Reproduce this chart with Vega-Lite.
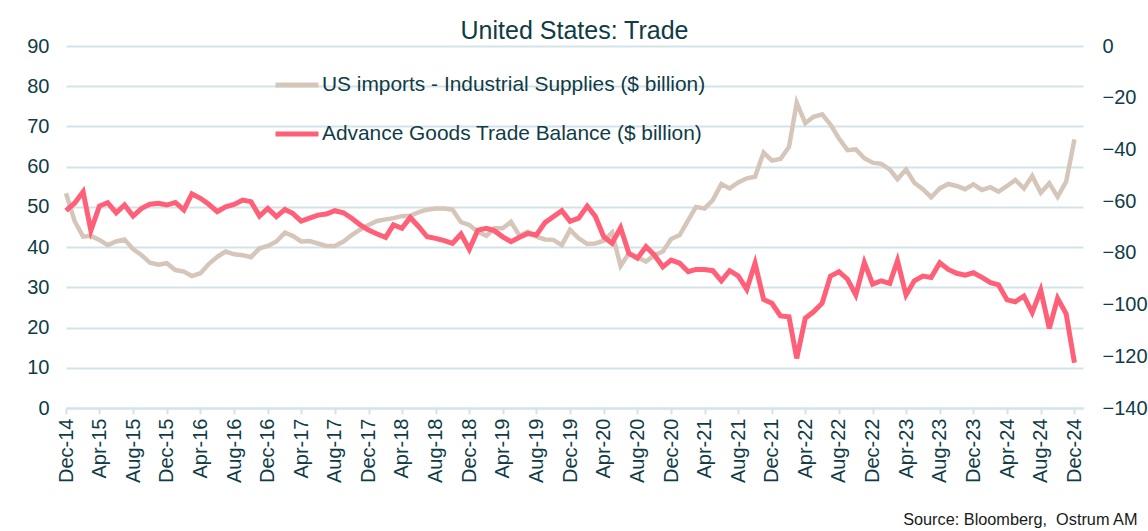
{
  "$schema": "https://vega.github.io/schema/vega-lite/v6.json",
  "autosize": {"type": "none"},
  "padding": {"left": 66, "top": 46, "right": 65, "bottom": 123},
  "width": 1017,
  "height": 362,
  "background": "white",
  "title": {
    "text": "United States: Trade",
    "frame": "group",
    "anchor": "middle",
    "offset": -8,
    "fontSize": 25,
    "fontWeight": "normal",
    "font": "Liberation Sans",
    "color": "#0f3c46"
  },
  "data": {
    "values": [
      {"date": "2014-12-01", "imports": 53.4, "balance": -63.7},
      {"date": "2015-01-01", "imports": 46.5, "balance": -60.8},
      {"date": "2015-02-01", "imports": 42.6, "balance": -56.4},
      {"date": "2015-03-01", "imports": 42.8, "balance": -71.4},
      {"date": "2015-04-01", "imports": 41.8, "balance": -61.9},
      {"date": "2015-05-01", "imports": 40.5, "balance": -60.6},
      {"date": "2015-06-01", "imports": 41.4, "balance": -64.5},
      {"date": "2015-07-01", "imports": 41.9, "balance": -61.5},
      {"date": "2015-08-01", "imports": 39.5, "balance": -65.8},
      {"date": "2015-09-01", "imports": 38.0, "balance": -62.8},
      {"date": "2015-10-01", "imports": 36.1, "balance": -61.2},
      {"date": "2015-11-01", "imports": 35.6, "balance": -60.8},
      {"date": "2015-12-01", "imports": 36.0, "balance": -61.5},
      {"date": "2016-01-01", "imports": 34.3, "balance": -60.5},
      {"date": "2016-02-01", "imports": 33.9, "balance": -63.4},
      {"date": "2016-03-01", "imports": 32.8, "balance": -57.2},
      {"date": "2016-04-01", "imports": 33.5, "balance": -58.9},
      {"date": "2016-05-01", "imports": 35.8, "balance": -61.2},
      {"date": "2016-06-01", "imports": 37.6, "balance": -64.1},
      {"date": "2016-07-01", "imports": 38.9, "balance": -62.2},
      {"date": "2016-08-01", "imports": 38.2, "balance": -61.3},
      {"date": "2016-09-01", "imports": 38.0, "balance": -59.6},
      {"date": "2016-10-01", "imports": 37.5, "balance": -60.2},
      {"date": "2016-11-01", "imports": 39.7, "balance": -65.8},
      {"date": "2016-12-01", "imports": 40.3, "balance": -62.8},
      {"date": "2017-01-01", "imports": 41.4, "balance": -66.0},
      {"date": "2017-02-01", "imports": 43.6, "balance": -63.2},
      {"date": "2017-03-01", "imports": 42.8, "balance": -64.7},
      {"date": "2017-04-01", "imports": 41.4, "balance": -67.7},
      {"date": "2017-05-01", "imports": 41.5, "balance": -66.6},
      {"date": "2017-06-01", "imports": 40.9, "balance": -65.4},
      {"date": "2017-07-01", "imports": 40.3, "balance": -65.0},
      {"date": "2017-08-01", "imports": 40.3, "balance": -63.7},
      {"date": "2017-09-01", "imports": 41.4, "balance": -64.5},
      {"date": "2017-10-01", "imports": 43.0, "balance": -66.6},
      {"date": "2017-11-01", "imports": 44.4, "balance": -69.2},
      {"date": "2017-12-01", "imports": 45.5, "balance": -71.2},
      {"date": "2018-01-01", "imports": 46.5, "balance": -72.7},
      {"date": "2018-02-01", "imports": 46.9, "balance": -74.0},
      {"date": "2018-03-01", "imports": 47.2, "balance": -69.2},
      {"date": "2018-04-01", "imports": 47.7, "balance": -70.5},
      {"date": "2018-05-01", "imports": 47.8, "balance": -66.3},
      {"date": "2018-06-01", "imports": 48.7, "balance": -69.9},
      {"date": "2018-07-01", "imports": 49.3, "balance": -73.8},
      {"date": "2018-08-01", "imports": 49.6, "balance": -74.4},
      {"date": "2018-09-01", "imports": 49.6, "balance": -75.3},
      {"date": "2018-10-01", "imports": 49.3, "balance": -76.3},
      {"date": "2018-11-01", "imports": 46.2, "balance": -72.7},
      {"date": "2018-12-01", "imports": 45.5, "balance": -78.6},
      {"date": "2019-01-01", "imports": 43.8, "balance": -71.2},
      {"date": "2019-02-01", "imports": 42.8, "balance": -70.5},
      {"date": "2019-03-01", "imports": 44.7, "balance": -71.4},
      {"date": "2019-04-01", "imports": 44.7, "balance": -73.8},
      {"date": "2019-05-01", "imports": 46.3, "balance": -75.7},
      {"date": "2019-06-01", "imports": 42.8, "balance": -74.0},
      {"date": "2019-07-01", "imports": 43.8, "balance": -72.5},
      {"date": "2019-08-01", "imports": 42.6, "balance": -73.1},
      {"date": "2019-09-01", "imports": 41.9, "balance": -68.3},
      {"date": "2019-10-01", "imports": 41.8, "balance": -66.0},
      {"date": "2019-11-01", "imports": 40.5, "balance": -63.7},
      {"date": "2019-12-01", "imports": 44.3, "balance": -67.8},
      {"date": "2020-01-01", "imports": 42.2, "balance": -66.6},
      {"date": "2020-02-01", "imports": 40.8, "balance": -61.9},
      {"date": "2020-03-01", "imports": 40.9, "balance": -65.8},
      {"date": "2020-04-01", "imports": 41.6, "balance": -73.8},
      {"date": "2020-05-01", "imports": 43.6, "balance": -76.3},
      {"date": "2020-06-01", "imports": 35.3, "balance": -70.3},
      {"date": "2020-07-01", "imports": 38.5, "balance": -80.2},
      {"date": "2020-08-01", "imports": 37.5, "balance": -82.1},
      {"date": "2020-09-01", "imports": 36.4, "balance": -77.6},
      {"date": "2020-10-01", "imports": 38.0, "balance": -80.8},
      {"date": "2020-11-01", "imports": 38.9, "balance": -85.4},
      {"date": "2020-12-01", "imports": 42.0, "balance": -82.8},
      {"date": "2021-01-01", "imports": 43.0, "balance": -84.0},
      {"date": "2021-02-01", "imports": 46.7, "balance": -87.3},
      {"date": "2021-03-01", "imports": 50.0, "balance": -86.4},
      {"date": "2021-04-01", "imports": 49.6, "balance": -86.4},
      {"date": "2021-05-01", "imports": 51.7, "balance": -86.9},
      {"date": "2021-06-01", "imports": 55.7, "balance": -90.8},
      {"date": "2021-07-01", "imports": 54.6, "balance": -86.9},
      {"date": "2021-08-01", "imports": 56.1, "balance": -88.9},
      {"date": "2021-09-01", "imports": 57.1, "balance": -94.1},
      {"date": "2021-10-01", "imports": 57.5, "balance": -84.0},
      {"date": "2021-11-01", "imports": 63.5, "balance": -98.0},
      {"date": "2021-12-01", "imports": 61.5, "balance": -99.5},
      {"date": "2022-01-01", "imports": 61.9, "balance": -104.4},
      {"date": "2022-02-01", "imports": 64.9, "balance": -104.7},
      {"date": "2022-03-01", "imports": 75.9, "balance": -120.8},
      {"date": "2022-04-01", "imports": 70.8, "balance": -105.3},
      {"date": "2022-05-01", "imports": 72.4, "balance": -102.8},
      {"date": "2022-06-01", "imports": 73.0, "balance": -99.5},
      {"date": "2022-07-01", "imports": 70.5, "balance": -89.0},
      {"date": "2022-08-01", "imports": 67.0, "balance": -87.3},
      {"date": "2022-09-01", "imports": 64.1, "balance": -90.2},
      {"date": "2022-10-01", "imports": 64.3, "balance": -96.3},
      {"date": "2022-11-01", "imports": 62.1, "balance": -83.8},
      {"date": "2022-12-01", "imports": 61.0, "balance": -92.1},
      {"date": "2023-01-01", "imports": 60.7, "balance": -90.8},
      {"date": "2023-02-01", "imports": 59.3, "balance": -91.8},
      {"date": "2023-03-01", "imports": 56.9, "balance": -83.0},
      {"date": "2023-04-01", "imports": 59.3, "balance": -96.3},
      {"date": "2023-05-01", "imports": 56.0, "balance": -90.8},
      {"date": "2023-06-01", "imports": 54.4, "balance": -89.0},
      {"date": "2023-07-01", "imports": 52.4, "balance": -89.5},
      {"date": "2023-08-01", "imports": 54.6, "balance": -83.8},
      {"date": "2023-09-01", "imports": 55.7, "balance": -86.4},
      {"date": "2023-10-01", "imports": 55.2, "balance": -87.9},
      {"date": "2023-11-01", "imports": 54.4, "balance": -88.6},
      {"date": "2023-12-01", "imports": 55.6, "balance": -87.7},
      {"date": "2024-01-01", "imports": 54.2, "balance": -89.5},
      {"date": "2024-02-01", "imports": 54.9, "balance": -91.5},
      {"date": "2024-03-01", "imports": 53.8, "balance": -92.4},
      {"date": "2024-04-01", "imports": 55.2, "balance": -98.2},
      {"date": "2024-05-01", "imports": 56.7, "balance": -98.9},
      {"date": "2024-06-01", "imports": 54.6, "balance": -96.7},
      {"date": "2024-07-01", "imports": 57.7, "balance": -103.1},
      {"date": "2024-08-01", "imports": 53.5, "balance": -94.4},
      {"date": "2024-09-01", "imports": 55.9, "balance": -109.2},
      {"date": "2024-10-01", "imports": 52.5, "balance": -97.6},
      {"date": "2024-11-01", "imports": 56.3, "balance": -103.6},
      {"date": "2024-12-01", "imports": 66.8, "balance": -122.5}
    ]
  },
  "encoding": {
    "x": {
      "field": "date",
      "type": "temporal",
      "scale": {
        "type": "utc",
        "domain": [
          {"year": 2014, "month": 12, "date": 1, "utc": true},
          {"year": 2025, "month": 1, "date": 1, "utc": true}
        ],
        "nice": false
      },
      "axis": {
        "values": [
          {"year": 2014, "month": 12, "date": 1, "utc": true},
          {"year": 2015, "month": 4, "date": 1, "utc": true},
          {"year": 2015, "month": 8, "date": 1, "utc": true},
          {"year": 2015, "month": 12, "date": 1, "utc": true},
          {"year": 2016, "month": 4, "date": 1, "utc": true},
          {"year": 2016, "month": 8, "date": 1, "utc": true},
          {"year": 2016, "month": 12, "date": 1, "utc": true},
          {"year": 2017, "month": 4, "date": 1, "utc": true},
          {"year": 2017, "month": 8, "date": 1, "utc": true},
          {"year": 2017, "month": 12, "date": 1, "utc": true},
          {"year": 2018, "month": 4, "date": 1, "utc": true},
          {"year": 2018, "month": 8, "date": 1, "utc": true},
          {"year": 2018, "month": 12, "date": 1, "utc": true},
          {"year": 2019, "month": 4, "date": 1, "utc": true},
          {"year": 2019, "month": 8, "date": 1, "utc": true},
          {"year": 2019, "month": 12, "date": 1, "utc": true},
          {"year": 2020, "month": 4, "date": 1, "utc": true},
          {"year": 2020, "month": 8, "date": 1, "utc": true},
          {"year": 2020, "month": 12, "date": 1, "utc": true},
          {"year": 2021, "month": 4, "date": 1, "utc": true},
          {"year": 2021, "month": 8, "date": 1, "utc": true},
          {"year": 2021, "month": 12, "date": 1, "utc": true},
          {"year": 2022, "month": 4, "date": 1, "utc": true},
          {"year": 2022, "month": 8, "date": 1, "utc": true},
          {"year": 2022, "month": 12, "date": 1, "utc": true},
          {"year": 2023, "month": 4, "date": 1, "utc": true},
          {"year": 2023, "month": 8, "date": 1, "utc": true},
          {"year": 2023, "month": 12, "date": 1, "utc": true},
          {"year": 2024, "month": 4, "date": 1, "utc": true},
          {"year": 2024, "month": 8, "date": 1, "utc": true},
          {"year": 2024, "month": 12, "date": 1, "utc": true}
        ],
        "labelExpr": "utcFormat(datum.value, '%b-%y')",
        "labelAngle": 270,
        "labelAlign": "right",
        "labelBaseline": "middle",
        "labelFontSize": 20,
        "labelPadding": 4,
        "labelOverlap": false,
        "labelFlush": false,
        "labelColor": "#0f3c46",
        "labelFont": "Liberation Sans",
        "grid": false,
        "domain": true,
        "domainColor": "#d3e3ea",
        "domainWidth": 2,
        "ticks": true,
        "tickColor": "#d3e3ea",
        "tickWidth": 2,
        "tickSize": 6,
        "title": "Source: Bloomberg,\u00a0\u00a0Ostrum AM",
        "titleX": 1071,
        "titleY": 111,
        "titleAlign": "right",
        "titleAnchor": null,
        "titleBaseline": "middle",
        "titleAngle": 0,
        "titleFontSize": 16.3,
        "titleFontWeight": "normal",
        "titleFont": "Liberation Sans",
        "titleColor": "#1a1a1a"
      }
    }
  },
  "layer": [
    {
      "mark": {"type": "line", "strokeWidth": 4.5, "interpolate": "linear"},
      "encoding": {
        "y": {
          "field": "imports",
          "type": "quantitative",
          "scale": {"domain": [0, 90], "nice": false, "zero": false},
          "axis": {
            "orient": "left",
            "values": [0, 10, 20, 30, 40, 50, 60, 70, 80, 90],
            "title": null,
            "grid": true,
            "gridColor": "#d3e3ea",
            "gridWidth": 2,
            "domain": false,
            "ticks": false,
            "tickSize": 0,
            "labelPadding": 17,
            "labelFontSize": 20,
            "labelColor": "#0f3c46",
            "labelFont": "Liberation Sans"
          }
        },
        "color": {
          "datum": "US imports - Industrial Supplies ($ billion)",
          "type": "nominal",
          "scale": {
            "domain": ["US imports - Industrial Supplies ($ billion)", "Advance Goods Trade Balance ($ billion)"],
            "range": ["#d6c5b9", "#ff6078"]
          },
          "legend": {
            "orient": "none",
            "legendX": 207,
            "legendY": 15,
            "title": null,
            "symbolType": "stroke",
            "symbolSize": 1849,
            "symbolStrokeWidth": 5,
            "labelFontSize": 20.9,
            "labelFont": "Liberation Sans",
            "labelColor": "#0f3c46",
            "labelOffset": 1,
            "rowPadding": 15,
            "labelLimit": 600
          }
        }
      }
    },
    {
      "mark": {"type": "line", "strokeWidth": 5, "interpolate": "linear"},
      "encoding": {
        "y": {
          "field": "balance",
          "type": "quantitative",
          "scale": {"domain": [-140, 0], "nice": false, "zero": false},
          "axis": {
            "orient": "right",
            "values": [-140, -120, -100, -80, -60, -40, -20, 0],
            "title": null,
            "grid": false,
            "domain": false,
            "ticks": false,
            "tickSize": 0,
            "labelPadding": 19,
            "labelFontSize": 20,
            "labelColor": "#0f3c46",
            "labelFont": "Liberation Sans"
          }
        },
        "color": {
          "datum": "Advance Goods Trade Balance ($ billion)",
          "type": "nominal"
        }
      }
    }
  ],
  "resolve": {"scale": {"y": "independent"}},
  "config": {
    "view": {"stroke": null},
    "font": "Liberation Sans"
  }
}
